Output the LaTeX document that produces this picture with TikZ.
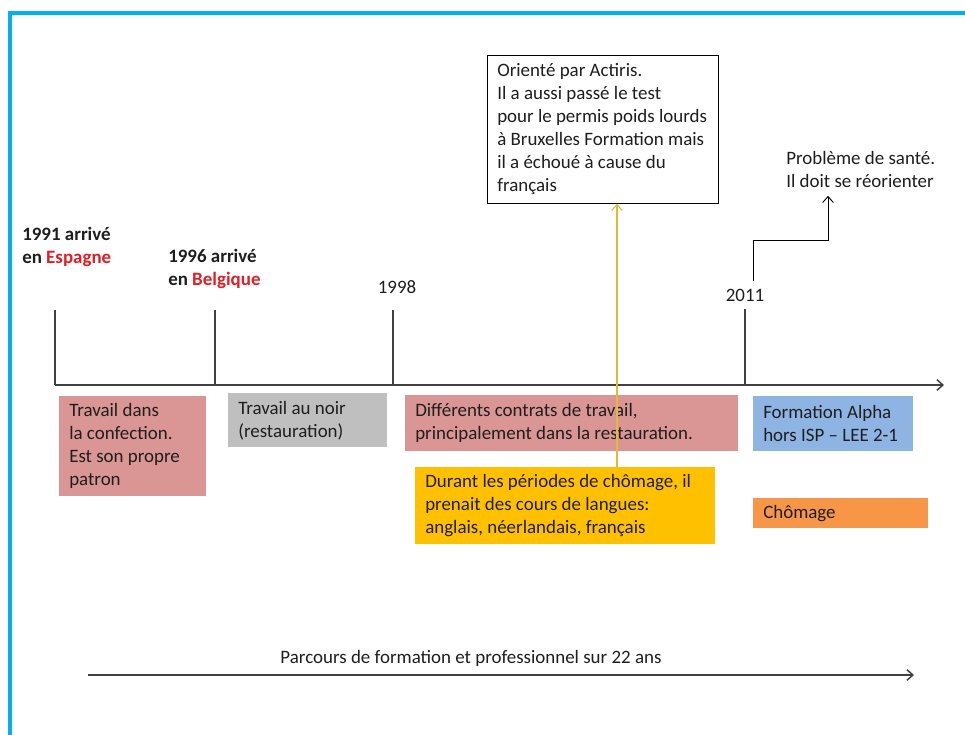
\documentclass[tikz,border=0pt]{standalone}
\usepackage{fontspec}
\setmainfont{Carlito}
\usetikzlibrary{arrows.meta}

\definecolor{frameblue}{RGB}{0,176,240}
\definecolor{rosebox}{RGB}{217,150,148}
\definecolor{greybox}{RGB}{191,191,191}
\definecolor{yellowbox}{RGB}{255,192,0}
\definecolor{bluebox}{RGB}{142,180,227}
\definecolor{orangebox}{RGB}{247,150,70}
\definecolor{redtxt}{RGB}{226,30,36}
\definecolor{ink}{RGB}{30,30,30}
\definecolor{axisgrey}{RGB}{64,64,64}
\definecolor{linkgold}{RGB}{228,186,50}

\begin{document}
\begin{tikzpicture}[x=0.75pt,y=-0.75pt,
  every node/.style={font=\fontsize{14.2pt}{17.25pt}\selectfont, text=ink},
  tip/.style={-{Straight Barb[length=4.5pt,width=8pt]}},
  axis/.style={draw=axisgrey, line width=1.1pt},
  tick/.style={draw=axisgrey, line width=0.9pt},
  year/.style={anchor=center, inner sep=0pt},
  arrival/.style={anchor=west, align=left, inner sep=0pt, font=\fontsize{14.2pt}{17.25pt}\selectfont\bfseries},
  period/.style={anchor=north west, inner sep=0pt, fill=#1},
  note/.style={anchor=north west, inner sep=0pt, draw=black, line width=0.6pt, fill=white},
  boxtext/.style={anchor=west, align=left, inner sep=0pt, xshift=7.5pt}
]
\useasboundingbox (0,0) rectangle (965,735);

% frame along the top and left edges
\draw[frameblue, line width=3pt, line join=miter] (10,735) -- (10,13) -- (965,13);

% main time axis
\coordinate (axstart) at (55,385);
\coordinate (axend) at (944,385);
\draw[axis, tip] (axstart) -- (axend);

% year ticks
\coordinate (k1991) at (55,385);  \coordinate (k1991top) at (55,310);
\coordinate (k1996) at (215,385); \coordinate (k1996top) at (215,310);
\coordinate (k1998) at (393,385); \coordinate (k1998top) at (393,310);
\coordinate (k2011) at (745,385); \coordinate (k2011top) at (745,309);
\draw[tick] (k1991) -- (k1991top);
\draw[tick] (k1996) -- (k1996top);
\draw[tick] (k1998) -- (k1998top);
\draw[tick] (k2011) -- (k2011top);

% year labels
\node[arrival] (a1991) at (22,246.5) {1991 arrivé\\en \textcolor{redtxt}{Espagne}};
\node[arrival] (a1996) at (168,268.5) {1996 arrivé\\en \textcolor{redtxt}{Belgique}};
\node[year] (y1998) at (397,287) {1998};
\node[year] (y2011) at (745,295) {2011};

% periods below the axis
\node[period=rosebox, minimum width=110.25pt, minimum height=75pt] (confection) at (59,396) {};
\node[boxtext] (confection-t) at (confection.west) {Travail dans\\la confection.\\Est son propre\\patron};

\node[period=greybox, minimum width=119.25pt, minimum height=40.5pt] (noir) at (228,393) {};
\node[boxtext] (noir-t) at (noir.west) {Travail au noir\\(restauration)};

\node[period=rosebox, minimum width=249.75pt, minimum height=42pt] (contrats) at (405,395) {};
\node[boxtext] (contrats-t) at (contrats.west) {Différents contrats de travail,\\principalement dans la restauration.};

\node[period=yellowbox, minimum width=225pt, minimum height=57.75pt] (langues) at (415,467) {};
\node[boxtext] (langues-t) at (langues.west) {Durant les périodes de chômage, il\\prenait des cours de langues:\\anglais, néerlandais, français};

\node[period=bluebox, minimum width=120pt, minimum height=41.25pt] (alpha) at (753,396) {};
\node[boxtext] (alpha-t) at (alpha.west) {Formation Alpha\\hors ISP -- LEE 2-1};

\node[period=orangebox, minimum width=131.25pt, minimum height=22.5pt] (chomage) at (753,498) {};
\node[boxtext] (chomage-t) at (chomage.west) {Chômage};

% orientation note and its link
\node[note, minimum width=173.25pt, minimum height=111pt] (actiris) at (487,55) {};
\node[boxtext] (actiris-t) at (actiris.west) {Orienté par Actiris.\\Il a aussi passé le test\\pour le permis poids lourds\\à Bruxelles Formation mais\\il a échoué à cause du\\français};
\coordinate (linkx) at (617,0);
\draw[linkgold, line width=0.8pt, tip] (langues.north -| linkx) -- (actiris.south -| linkx);

% health note reached by a stepped arrow
\node[anchor=north west, align=left, inner sep=0pt] (sante) at (786,151) {Problème de santé.\\Il doit se réorienter};
\coordinate (stepfrom) at (753,281);
\coordinate (stepto) at (828,240);
\draw[black, line width=0.7pt, tip] (stepfrom) |- (stepto) -- ([yshift=-6pt]sante.south -| stepto);

% overall span arrow
\coordinate (spanstart) at (88,675);
\coordinate (spanend) at (914,675);
\draw[axis, tip] (spanstart) -- (spanend);
\node[inner sep=0pt] (span) at (471,658) {Parcours de formation et professionnel sur 22 ans};
\end{tikzpicture}
\end{document}
